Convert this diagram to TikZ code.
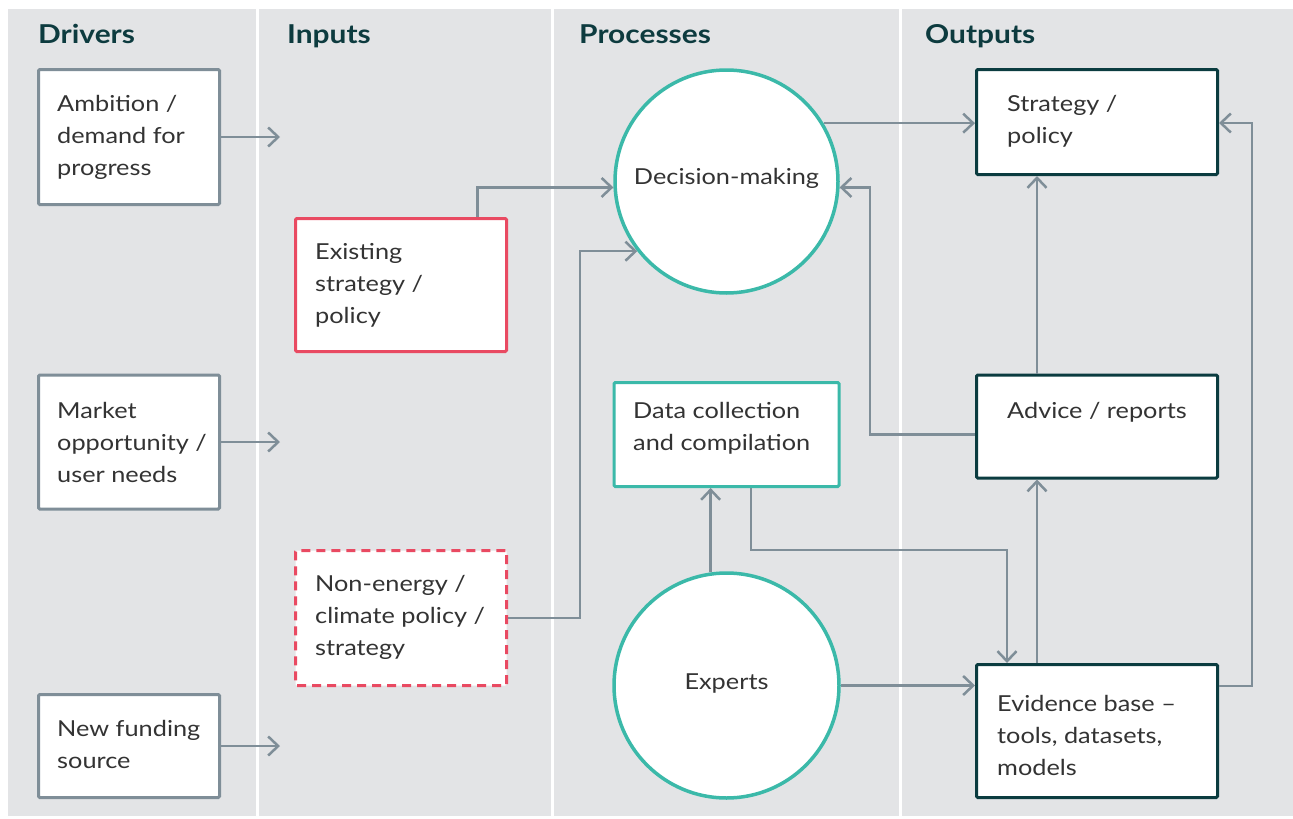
\documentclass[tikz,border=0pt]{standalone}
\usepackage{fontspec}
\setmainfont{Lato}[FakeStretch=1.15]
\usetikzlibrary{arrows.meta}

\definecolor{panelgray}{HTML}{E3E4E6}
\definecolor{linegray}{HTML}{7F8E98}
\definecolor{inred}{HTML}{E94A62}
\definecolor{procteal}{HTML}{3BB9A9}
\definecolor{outdark}{HTML}{0B3C40}
\definecolor{bodytext}{HTML}{333333}
\definecolor{headtext}{HTML}{0D3B3F}

\tikzset{
  panel/.style={fill=panelgray, draw=none},
  header/.style={anchor=base west, inner sep=0pt, text=headtext,
    font=\fontsize{26}{30}\selectfont\bfseries},
  txt/.style={inner sep=0pt, align=left, text=bodytext,
    font=\fontsize{22}{32}\selectfont},
  boxbase/.style={rectangle, fill=white, line width=3pt, rounded corners=1.2pt, inner sep=0pt},
  drvbox/.style={boxbase, draw=linegray},
  inbox/.style={boxbase, draw=inred},
  indashed/.style={boxbase, draw=inred, dash pattern=on 9pt off 6pt},
  procbox/.style={boxbase, draw=procteal},
  proccirc/.style={circle, fill=white, draw=procteal, line width=3.5pt, inner sep=0pt},
  outbox/.style={boxbase, draw=outdark},
  conn/.style={draw=linegray, line width=2.5pt,
    -{Straight Barb[length=10pt, width=19pt, line width=2.5pt]}},
}

\begin{document}
\begin{tikzpicture}[x=1pt, y=-1pt]
\useasboundingbox (0,0) rectangle (1293,819);
\fill[white] (0,0) rectangle (1293,819);

% column panels
\fill[panel] (8,9) rectangle (256,816);
\fill[panel] (259,9) rectangle (551,816);
\fill[panel] (554,9) rectangle (899,816);
\fill[panel] (902,9) rectangle (1293,816);

% column headers
\node[header] (h-drv) at (38,43) {Drivers};
\node[header] (h-in) at (287,43) {Inputs};
\node[header] (h-proc) at (579,43) {Processes};
\node[header] (h-out) at (925,43) {Outputs};

% drivers
\node[drvbox, minimum width=181pt, minimum height=135pt] (amb) at (129,137) {};
\node[txt, anchor=west] (amb-t) at (57,137) {Ambition /\\demand for\\progress};
\node[drvbox, minimum width=181pt, minimum height=134pt] (mkt) at (129,442) {};
\node[txt, anchor=west] (mkt-t) at (57,442) {Market\\opportunity /\\user needs};
\node[drvbox, minimum width=181pt, minimum height=103pt] (fund) at (129,746) {};
\node[txt, anchor=west] (fund-t) at (57,744) {New funding\\source};

\coordinate (amb-to) at (280,137);
\coordinate (mkt-to) at (280,442);
\coordinate (fund-to) at (280,746);

% inputs
\node[inbox, minimum width=211pt, minimum height=133pt] (ex) at (401,285) {};
\node[txt, anchor=west] (ex-t) at (315,285) {Existing\\strategy /\\policy};
\node[indashed, minimum width=211pt, minimum height=135pt] (ne) at (401,618) {};
\node[txt, anchor=west] (ne-t) at (315,617) {Non-energy /\\climate policy /\\strategy};

% processes
\node[proccirc, minimum size=223pt] (dm) at (726.5,181.5) {};
\node[txt, anchor=center] (dm-t) at (726.5,178) {Decision-making};
\node[procbox, minimum width=225pt, minimum height=104pt] (dc) at (726.5,434.5) {};
\node[txt, anchor=west] (dc-t) at (633,428) {Data collection\\and compilation};
\node[proccirc, minimum size=225pt] (exp) at (726.5,685.5) {};
\node[txt, anchor=center] (exp-t) at (726.5,683) {Experts};

% outputs
\node[outbox, minimum width=241pt, minimum height=105pt] (so) at (1097,122) {};
\node[txt, anchor=west] (so-t) at (1007,121) {Strategy /\\policy};
\node[outbox, minimum width=241pt, minimum height=103pt] (adv) at (1097,426.5) {};
\node[txt, anchor=west] (adv-t) at (1007,412) {Advice / reports};
\node[outbox, minimum width=241pt, minimum height=133pt] (ev) at (1097,731) {};
\node[txt, anchor=west] (ev-t) at (997,735) {Evidence base --\\tools, datasets,\\models};

% connectors
\draw[conn] (amb) -- (amb-to);
\draw[conn] (mkt) -- (mkt-to);
\draw[conn] (fund) -- (fund-to);

\draw[conn] ([xshift=76.5pt]ex.north) |- (dm.183);
\draw[conn] (ne.east) -- ++(72,0) |- (dm.218);

\draw[conn] (dm.31) -- (dm.31 -| so.west);
\draw[conn] ([yshift=-8pt]adv.west) -- ++(-105,0) |- (dm.357);

\draw[conn] (exp.98) -- (exp.98 |- dc.south);
\draw[conn] ([xshift=24.5pt]dc.south) -- ++(0,62) -| ([xshift=-90pt]ev.north);
\draw[conn] (exp.east) -- (exp.east -| ev.west);

\draw[conn] ([xshift=-60pt]adv.north) -- ([xshift=-60pt]so.south);
\draw[conn] ([xshift=-60pt]ev.north) -- ([xshift=-60pt]adv.south);
\draw[conn] ([yshift=45pt]ev.east) -- ++(33,0) |- ([yshift=-1pt]so.east);
\end{tikzpicture}
\end{document}
